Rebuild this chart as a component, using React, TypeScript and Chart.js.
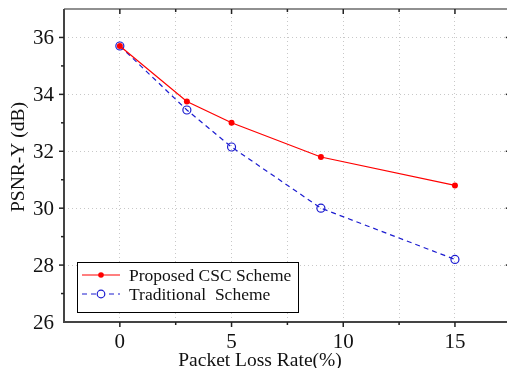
import React, { useEffect, useRef } from "react";
import { Chart, registerables } from "chart.js";
Chart.register(...registerables);

const lossRates = [0, 3, 5, 9, 15];
const proposedPSNR = [35.7, 33.75, 33.0, 31.8, 30.8];
const traditionalPSNR = [35.7, 33.45, 32.15, 30.0, 28.2];
const seriesNames = ["Proposed CSC Scheme", "Traditional  Scheme"];
const xTitle = "Packet Loss Rate(%)";
const yTitle = "PSNR-Y (dB)";
const xMajorTicks = [0, 5, 10, 15];
const xGridTicks = [-2.5, 0, 2.5, 5, 7.5, 10, 12.5, 15, 17.5];
const yMajorTicks = [26, 28, 30, 32, 34, 36];

const FONT = "'Liberation Serif', 'Times New Roman', serif";
const RED = "#ff0000";
const BLUE = "#1c1cd0";
const CANVAS_W = 516;

const framePlugin = {
  id: "frame",
  afterDraw(chart: any) {
    const { ctx, chartArea: a, scales } = chart;
    const xs = scales.x, ys = scales.y;
    ctx.save();
    ctx.strokeStyle = "#222";
    ctx.lineWidth = 1.2;
    ctx.beginPath();
    ctx.moveTo(a.left, a.top); ctx.lineTo(a.right, a.top); ctx.lineTo(a.right, a.bottom);
    ctx.stroke();
    ctx.strokeStyle = "#444";
    ctx.lineWidth = 2;
    ctx.beginPath();
    ctx.moveTo(a.left, a.top); ctx.lineTo(a.left, a.bottom); ctx.lineTo(a.right, a.bottom);
    ctx.stroke();
    ctx.strokeStyle = "#222";
    ctx.lineWidth = 1.5;
    xGridTicks.forEach((v) => {
      const px = xs.getPixelForValue(v);
      if (px < a.left + 1 || px > a.right - 1) return;
      const major = xMajorTicks.includes(v);
      const len = major ? 5 : 3;
      ctx.beginPath(); ctx.moveTo(px, a.bottom); ctx.lineTo(px, a.bottom + len); ctx.stroke();
      ctx.beginPath(); ctx.moveTo(px, a.top); ctx.lineTo(px, a.top + len); ctx.stroke();
    });
    for (let v = 26; v <= 37; v += 1) {
      const py = ys.getPixelForValue(v);
      if (py < a.top + 1 || py > a.bottom - 1) continue;
      const major = yMajorTicks.includes(v);
      const len = major ? 5 : 3;
      ctx.beginPath(); ctx.moveTo(a.left, py); ctx.lineTo(a.left - len, py); ctx.stroke();
      ctx.beginPath(); ctx.moveTo(a.right, py); ctx.lineTo(a.right - len, py); ctx.stroke();
    }
    ctx.fillStyle = "#111";
    ctx.font = `21px ${FONT}`;
    ctx.textAlign = "center";
    ctx.textBaseline = "alphabetic";
    xMajorTicks.forEach((v) => {
      ctx.fillText(String(v), xs.getPixelForValue(v), a.bottom + 26);
    });
    ctx.textAlign = "right";
    ctx.textBaseline = "middle";
    yMajorTicks.forEach((v) => {
      ctx.fillText(String(v), a.left - 10, ys.getPixelForValue(v) + 1);
    });
    ctx.font = `19.5px ${FONT}`;
    ctx.textAlign = "center";
    ctx.textBaseline = "alphabetic";
    ctx.fillText(xTitle, 260, a.bottom + 44);
    ctx.save();
    ctx.translate(24, 157);
    ctx.rotate(-Math.PI / 2);
    ctx.fillText(yTitle, 0, 0);
    ctx.restore();
    const lx = 77, ly = 262, lw = 221, lh = 50;
    ctx.fillStyle = "#fff";
    ctx.fillRect(lx, ly, lw, lh);
    ctx.strokeStyle = "#000";
    ctx.lineWidth = 1;
    ctx.strokeRect(lx + 0.5, ly + 0.5, lw, lh);
    const rows = [ly + 13, ly + 32];
    ctx.strokeStyle = RED; ctx.lineWidth = 1.2; ctx.setLineDash([]);
    ctx.beginPath(); ctx.moveTo(lx + 5, rows[0]); ctx.lineTo(lx + 43, rows[0]); ctx.stroke();
    ctx.fillStyle = RED;
    ctx.beginPath(); ctx.arc(lx + 24, rows[0], 2.8, 0, Math.PI * 2); ctx.fill();
    ctx.strokeStyle = BLUE; ctx.setLineDash([5, 4]);
    ctx.beginPath(); ctx.moveTo(lx + 5, rows[1]); ctx.lineTo(lx + 43, rows[1]); ctx.stroke();
    ctx.setLineDash([]);
    ctx.fillStyle = "#fff";
    ctx.beginPath(); ctx.arc(lx + 24, rows[1], 3.8, 0, Math.PI * 2); ctx.fill(); ctx.stroke();
    ctx.fillStyle = "#111";
    ctx.font = `17.5px ${FONT}`;
    ctx.textAlign = "left";
    ctx.textBaseline = "middle";
    ctx.fillText(seriesNames[0], lx + 52, rows[0] + 1);
    ctx.fillText(seriesNames[1], lx + 52, rows[1] + 1);
    ctx.restore();
  },
};

export default function App() {
  const ref = useRef<HTMLCanvasElement>(null);
  useEffect(() => {
    if (!ref.current) return;
    const chart = new Chart(ref.current, {
      type: "line",
      data: {
        datasets: [
          {
            label: seriesNames[0],
            data: lossRates.map((x, i) => ({ x, y: proposedPSNR[i] })),
            borderColor: RED,
            backgroundColor: RED,
            borderWidth: 1.2,
            pointRadius: 3,
            pointBorderWidth: 0,
            pointBackgroundColor: RED,
            tension: 0,
            order: 1,
          },
          {
            label: seriesNames[1],
            data: lossRates.map((x, i) => ({ x, y: traditionalPSNR[i] })),
            borderColor: BLUE,
            backgroundColor: "rgba(0,0,0,0)",
            borderWidth: 1.2,
            borderDash: [5, 4],
            pointRadius: 4,
            pointBorderWidth: 1.2,
            pointBorderColor: BLUE,
            pointBackgroundColor: "rgba(0,0,0,0)",
            tension: 0,
            order: 2,
          },
        ],
      },
      options: {
        animation: false,
        responsive: false,
        maintainAspectRatio: false,
        layout: { padding: { left: 0, top: 9, right: 3, bottom: 0 } },
        plugins: { legend: { display: false }, tooltip: { enabled: false } },
        scales: {
          x: {
            type: "linear",
            min: -2.5,
            max: 17.5,
            afterFit: (s: any) => { s.height = 46; },
            afterBuildTicks: (s: any) => {
              s.ticks = xGridTicks.map((v) => ({ value: v }));
            },
            ticks: { display: false },
            border: { display: false, dash: [1, 3] },
            grid: { color: "#c8c8c8", drawTicks: false, lineWidth: 1 },
          },
          y: {
            type: "linear",
            min: 26,
            max: 37,
            afterFit: (s: any) => { s.width = 64; },
            afterBuildTicks: (s: any) => {
              s.ticks = yMajorTicks.map((v) => ({ value: v }));
            },
            ticks: { display: false },
            border: { display: false, dash: [1, 3] },
            grid: { color: "#c8c8c8", drawTicks: false, lineWidth: 1 },
          },
        },
      },
      plugins: [framePlugin],
    });
    return () => chart.destroy();
  }, []);
  return (
    <div style={{ position: "fixed", left: 0, top: 0, width: 507, height: 368, overflow: "hidden", background: "#fff" }}>
      <canvas ref={ref} width={CANVAS_W} height={368} style={{ width: CANVAS_W, height: 368, display: "block" }} />
    </div>
  );
}
